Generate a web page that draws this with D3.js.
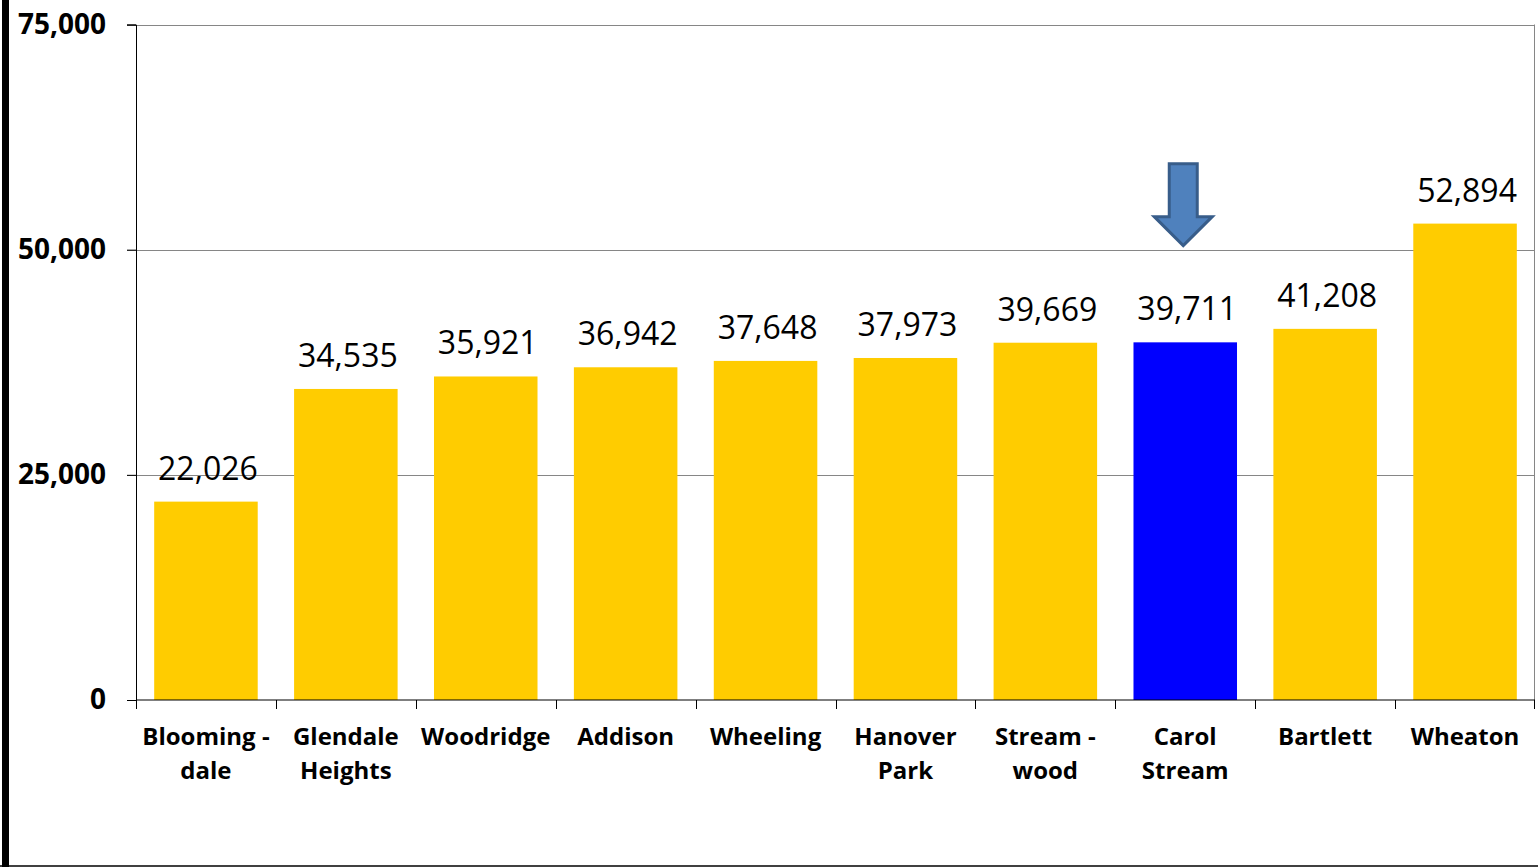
<!DOCTYPE html>
<html>
<head>
<meta charset="utf-8">
<script src="https://cdn.jsdelivr.net/npm/d3@7/dist/d3.min.js"></script>
<style>
  html, body { margin: 0; padding: 0; background: #fff; }
  svg { display: block; }
  text { font-family: "Open Sans", "Noto Sans", sans-serif; fill: #000; }
</style>
</head>
<body>
<svg id="chart" width="1538" height="867"></svg>
<script>
// Median household income by community
const categories = ["Blooming - dale", "Glendale Heights", "Woodridge", "Addison", "Wheeling",
                    "Hanover Park", "Stream - wood", "Carol Stream", "Bartlett", "Wheaton"];
const categoryLines = [["Blooming -", "dale"], ["Glendale", "Heights"], ["Woodridge"], ["Addison"], ["Wheeling"],
                       ["Hanover", "Park"], ["Stream -", "wood"], ["Carol", "Stream"], ["Bartlett"], ["Wheaton"]];
const values = [22026, 34535, 35921, 36942, 37648, 37973, 39669, 39711, 41208, 52894];
const highlighted = "Carol Stream";
const yTicks = [0, 25000, 50000, 75000];

const svg = d3.select("#chart");
const W = 1538, H = 867;
const plot = { left: 136, right: 1535, top: 24.5, bottom: 700 };

// Outer frame: heavy left rule and thin bottom rule
svg.append("rect").attr("x", 2).attr("y", 0).attr("width", 7).attr("height", H).attr("fill", "#000");
svg.append("line").attr("x1", 0).attr("x2", W).attr("y1", 866).attr("y2", 866)
  .attr("stroke", "#000").attr("stroke-width", 1.5);

const y = d3.scaleLinear().domain([0, 75000]).range([plot.bottom, plot.top]);
const slots = d3.scaleBand().domain(categories).range([plot.left, plot.right]).padding(0);
const x = d3.scaleBand().domain(categories).range([plot.left, plot.right])
  .paddingInner(0.26).paddingOuter(0.13);

// Gridlines
svg.append("g").selectAll("line").data(yTicks.filter(t => t > 0)).join("line")
  .attr("x1", 127).attr("x2", plot.right)
  .attr("y1", d => Math.round(y(d)) + 0.5).attr("y2", d => Math.round(y(d)) + 0.5)
  .attr("stroke", "#868686").attr("stroke-width", 1);

// Right edge of plot area
svg.append("line").attr("x1", plot.right - 0.5).attr("x2", plot.right - 0.5)
  .attr("y1", y(75000)).attr("y2", plot.bottom)
  .attr("stroke", "#868686").attr("stroke-width", 1);

// Bars
svg.append("g").selectAll("rect").data(categories).join("rect")
  .attr("x", d => x(d))
  .attr("width", x.bandwidth())
  .attr("y", (d, i) => y(values[i]))
  .attr("height", (d, i) => plot.bottom - y(values[i]))
  .attr("fill", d => d === highlighted ? "#0000FF" : "#FFCC00");

// Value labels
svg.append("g").selectAll("text").data(categories).join("text")
  .attr("x", d => x(d) + x.bandwidth() / 2 + 2)
  .attr("y", (d, i) => y(values[i]) - 22)
  .attr("text-anchor", "middle")
  .attr("font-size", 32)
  .text((d, i) => d3.format(",")(values[i]));

// Y axis
const yAxis = svg.append("g").attr("transform", `translate(${plot.left},0)`)
  .call(d3.axisLeft(y).tickValues(yTicks).tickSize(9).tickFormat(d3.format(",")));
yAxis.select(".domain").attr("stroke", "#000").attr("stroke-width", 1);
yAxis.selectAll(".tick line").attr("stroke", "#000");
yAxis.selectAll(".tick text")
  .attr("x", -30).attr("font-size", 28).attr("font-weight", 700)
  .style("font-family", "'Open Sans', sans-serif").attr("fill", "#000");

// X axis with ticks at slot boundaries
const xg = svg.append("g").attr("transform", `translate(0,${plot.bottom})`);
xg.append("line").attr("x1", plot.left).attr("x2", plot.right)
  .attr("y1", 0).attr("y2", 0).attr("stroke", "#000").attr("stroke-width", 1.2);
const bounds = categories.map(c => slots(c)).concat([plot.right]);
xg.selectAll("line.tk").data(bounds).join("line").attr("class", "tk")
  .attr("x1", d => Math.min(Math.round(d), plot.right - 1) + 0.5)
  .attr("x2", d => Math.min(Math.round(d), plot.right - 1) + 0.5)
  .attr("y1", 0).attr("y2", 9).attr("stroke", "#000");

const labels = xg.selectAll("text.cat").data(categories).join("text").attr("class", "cat")
  .attr("text-anchor", "middle").attr("font-size", 24).attr("font-weight", 700);
labels.each(function (d, i) {
  const t = d3.select(this);
  categoryLines[i].forEach((line, j) => {
    t.append("tspan")
      .attr("x", slots(d) + slots.bandwidth() / 2)
      .attr("y", 45 + j * 34)
      .text(line);
  });
});

// Down arrow marking the highlighted community
const ax = x(highlighted) + x.bandwidth() / 2 - 2;
const tipY = y(50000) - 4;
const shaftW = 28, headW = 58, headH = 29, arrowH = 82;
const arrow = [
  [ax - shaftW / 2, tipY - arrowH], [ax + shaftW / 2, tipY - arrowH],
  [ax + shaftW / 2, tipY - headH], [ax + headW / 2, tipY - headH],
  [ax, tipY], [ax - headW / 2, tipY - headH],
  [ax - shaftW / 2, tipY - headH]
];
svg.append("path")
  .attr("d", d3.line()(arrow) + "Z")
  .attr("fill", "#4F81BD").attr("stroke", "#385D8A").attr("stroke-width", 3)
  .attr("stroke-linejoin", "miter");
</script>
</body>
</html>
